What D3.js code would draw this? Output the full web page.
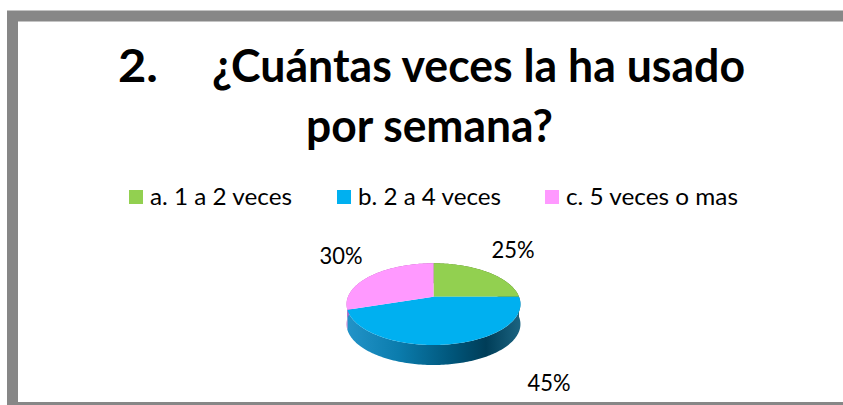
<!DOCTYPE html>
<html>
<head>
<meta charset="utf-8">
<script src="https://cdn.jsdelivr.net/npm/d3@7"></script>
<style>
  html, body { margin: 0; padding: 0; background: #fff; }
  svg { display: block; }
  text { font-family: Lato, "Open Sans", "Noto Sans", sans-serif; fill: #000; }
</style>
</head>
<body>
<svg id="chart" width="843" height="405"></svg>
<script>
// Survey answers: how many times per week
const categories = ["a. 1 a 2 veces", "b. 2 a 4 veces", "c. 5 veces o mas"];
const values = [25, 45, 30];
const colors = ["#92D050", "#00B0F0", "#FF99FF"];
const titleNumber = "2.";
const titleLines = ["¿Cuántas veces la ha usado", "por semana?"];

const W = 843, H = 405;
const svg = d3.select("#chart");

// white page with the grey chart frame
svg.append("rect").attr("width", W).attr("height", H).attr("fill", "#fff");
svg.append("rect")
  .attr("x", 12.5).attr("y", 16)
  .attr("width", 900).attr("height", 391.5)
  .attr("fill", "none").attr("stroke", "#878787").attr("stroke-width", 11);

// squeeze/stretch a text element to a given width
function fit(sel, width) {
  const n = sel.node().getComputedTextLength();
  if (Math.abs(n - width) > 1) sel.attr("textLength", width).attr("lengthAdjust", "spacingAndGlyphs");
  return sel;
}

// title
fit(svg.append("text").attr("x", 118).attr("y", 82)
  .attr("font-size", 45).attr("font-weight", 700).text(titleNumber), 40);
fit(svg.append("text").attr("x", 212).attr("y", 82)
  .attr("font-size", 45).attr("font-weight", 700).text(titleLines[0]), 533);
fit(svg.append("text").attr("x", 306).attr("y", 142)
  .attr("font-size", 45).attr("font-weight", 700).text(titleLines[1]), 247);

// legend
const legendX = [129, 337, 545];
const legendW = [142, 143, 172];
const legend = svg.append("g");
categories.forEach((c, i) => {
  legend.append("rect").attr("x", legendX[i]).attr("y", 190)
    .attr("width", 14).attr("height", 14).attr("fill", colors[i]);
  fit(legend.append("text").attr("x", legendX[i] + 21).attr("y", 205)
    .attr("font-size", 22.5).text(c), legendW[i]);
});

// 3D pie: a disc seen in perspective
const cx = 433.5, cy = 296.7;   // projected centre of the top face
const A = 85.5, B = 39.5, k = 0.182, depth = 20;
function project(theta, dy) {
  const w = 1 + k * Math.cos(theta);
  return [cx + A * Math.sin(theta) / w, cy - B * Math.cos(theta) / w + (dy || 0)];
}
function arcPoints(a0, a1, dy) {
  const n = Math.max(2, Math.ceil((a1 - a0) / 0.02));
  return d3.range(n + 1).map(j => project(a0 + (a1 - a0) * j / n, dy));
}

const pie = d3.pie().sort(null).startAngle(0).endAngle(2 * Math.PI);
const arcs = pie(values);
const line = d3.line();

const defs = svg.append("defs");
const sideStops = [
  ["#FF99FF", [["0%", "#c45fc4"], ["100%", "#8a3a8a"]]],
  ["#00B0F0", [["0%", "#2394c9"], ["30%", "#0b7cad"], ["62%", "#005478"], ["80%", "#003d58"], ["100%", "#1c6582"]]],
  ["#92D050", [["0%", "#6a9a36"], ["100%", "#3f5e1e"]]]
];
const sideGrad = {};
sideStops.forEach(([c, stops], i) => {
  const id = "side" + i;
  const g = defs.append("linearGradient").attr("id", id)
    .attr("gradientUnits", "userSpaceOnUse")
    .attr("x1", cx - A - 2).attr("x2", cx + A + 2).attr("y1", 0).attr("y2", 0);
  stops.forEach(([o, col]) => g.append("stop").attr("offset", o).attr("stop-color", col));
  sideGrad[c] = "url(#" + id + ")";
});

const pieG = svg.append("g");
// outer walls first
arcs.forEach((d, i) => {
  const top = arcPoints(d.startAngle, d.endAngle, 0);
  const bottom = arcPoints(d.startAngle, d.endAngle, depth).reverse();
  pieG.append("path")
    .attr("d", line(top.concat(bottom)) + "Z")
    .attr("fill", sideGrad[colors[i]]);
});
// top faces
arcs.forEach((d, i) => {
  const pts = [[cx, cy]].concat(arcPoints(d.startAngle, d.endAngle, 0));
  pieG.append("path")
    .attr("d", line(pts) + "Z")
    .attr("fill", colors[i]);
});

// data labels
const labelPos = [[513, 258], [549, 391], [341, 264]];
const total = d3.sum(values);
arcs.forEach((d, i) => {
  fit(svg.append("text").attr("x", labelPos[i][0]).attr("y", labelPos[i][1])
    .attr("text-anchor", "middle").attr("font-size", 22.5)
    .text(Math.round(d.data / total * 100) + "%"), 43);
});
</script>
</body>
</html>
